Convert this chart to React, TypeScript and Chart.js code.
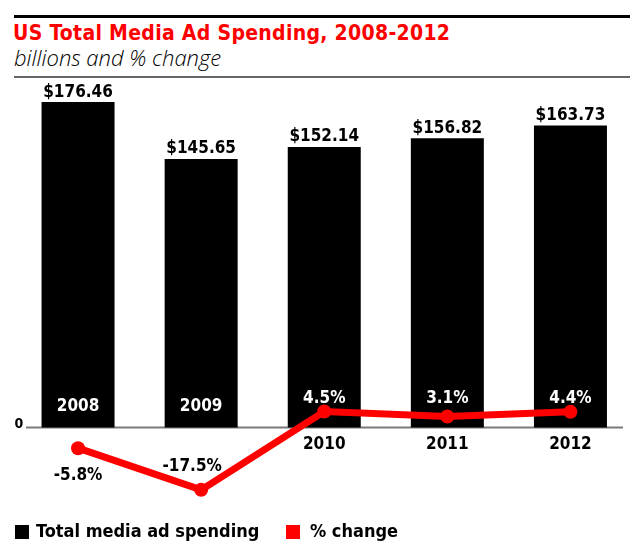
import React, { useEffect, useRef } from "react";
import { Chart, registerables } from "chart.js";

Chart.register(...registerables);

const years: string[] = ["2008", "2009", "2010", "2011", "2012"];
const spending: number[] = [176.46, 145.65, 152.14, 156.82, 163.73];
const pctChange: number[] = [-5.8, -17.5, 4.5, 3.1, 4.4];

const RED = "#ff0000";
const COND = '"DejaVu Sans Condensed", "DejaVu Sans", sans-serif';

const labelPlugin = {
  id: "customLabels",
  beforeDatasetsDraw(chart: any) {
    const { ctx, chartArea } = chart;
    const y = chart.scales.y;
    const zeroY = y.getPixelForValue(0);
    ctx.save();
    ctx.strokeStyle = "#7a7a7a";
    ctx.lineWidth = 2;
    ctx.beginPath();
    ctx.moveTo(chartArea.left + 9.5, zeroY);
    ctx.lineTo(chartArea.right - 9, zeroY);
    ctx.stroke();
    ctx.font = `bold 14px ${COND}`;
    ctx.fillStyle = "#000";
    ctx.textAlign = "center";
    ctx.textBaseline = "alphabetic";
    ctx.fillText("0", chartArea.left + 2.5, zeroY + 1);
    ctx.restore();
  },
  afterDatasetsDraw(chart: any) {
    const { ctx } = chart;
    const x = chart.scales.x;
    const y = chart.scales.y;
    const y1 = chart.scales.y1;
    const zeroY = y.getPixelForValue(0);
    const minPct = Math.min(...pctChange);
    ctx.save();
    ctx.textAlign = "center";
    ctx.textBaseline = "alphabetic";
    ctx.font = `bold 17px ${COND}`;
    spending.forEach((v, i) => {
      const cx = x.getPixelForValue(i);
      const top = y.getPixelForValue(v);
      ctx.fillStyle = "#000";
      ctx.fillText(`$${v.toFixed(2)}`, cx, top - 5.5);
    });
    years.forEach((yr, i) => {
      const cx = x.getPixelForValue(i);
      if (pctChange[i] < 0) {
        ctx.fillStyle = "#fff";
        ctx.fillText(yr, cx, zeroY - 16.5);
      } else {
        ctx.fillStyle = "#000";
        ctx.fillText(yr, cx, zeroY + 21.5);
      }
    });
    pctChange.forEach((p, i) => {
      const cx = x.getPixelForValue(i);
      const py = y1.getPixelForValue(p);
      const txt = `${p.toFixed(1)}%`;
      if (p >= 0) {
        ctx.fillStyle = "#fff";
        ctx.fillText(txt, cx, zeroY - 24.5);
      } else if (p === minPct) {
        ctx.fillStyle = "#000";
        ctx.fillText(txt, cx - 9, py - 19);
      } else {
        ctx.fillStyle = "#000";
        ctx.fillText(txt, cx, py + 32);
      }
    });
    ctx.restore();
  },
};

export default function App() {
  const canvasRef = useRef<HTMLCanvasElement | null>(null);

  useEffect(() => {
    document.body.style.margin = "0";
    const canvas = canvasRef.current;
    if (!canvas) return;
    const chart = new Chart(canvas, {
      type: "bar",
      data: {
        labels: years,
        datasets: [
          {
            type: "line",
            label: "% change",
            data: pctChange,
            yAxisID: "y1",
            borderColor: RED,
            backgroundColor: RED,
            borderWidth: 7,
            pointRadius: 7,
            pointBackgroundColor: RED,
            pointBorderWidth: 0,
            tension: 0,
            order: 0,
            clip: false as any,
          } as any,
          {
            type: "bar",
            label: "Total media ad spending",
            data: spending,
            yAxisID: "y",
            backgroundColor: "#000",
            borderWidth: 0,
            barPercentage: 0.593,
            categoryPercentage: 1,
            order: 1,
          } as any,
        ],
      },
      options: {
        responsive: false,
        animation: false,
        layout: { padding: { left: 16.5, right: 8, top: 80, bottom: 40 } },
        scales: {
          x: { display: false, offset: true, grid: { display: false } },
          y: { display: false, min: -44.74, max: 188.45 },
          y1: { display: false, min: -23.15, max: 97.53 },
        },
        plugins: {
          legend: { display: false },
          tooltip: { enabled: false },
        },
      },
      plugins: [labelPlugin],
    });
    return () => chart.destroy();
  }, []);

  const abs = (s: React.CSSProperties): React.CSSProperties => ({ position: "absolute", margin: 0, padding: 0, ...s });

  return (
    <div style={{ position: "relative", width: 640, height: 550, background: "#fff", overflow: "hidden" }}>
      <div style={abs({ left: 14, top: 15, width: 616, height: 3, background: "#000" })} />
      <div
        style={abs({
          left: 13,
          top: 23,
          font: `bold 21px/21px ${COND}`,
          letterSpacing: "0.3px",
          color: RED,
          whiteSpace: "nowrap",
        })}
      >
        US Total Media Ad Spending, 2008-2012
      </div>
      <div
        style={abs({
          left: 14,
          top: 45.5,
          fontFamily: '"Open Sans", Roboto, sans-serif',
          fontStyle: "italic",
          fontWeight: 300,
          fontSize: 22,
          lineHeight: "22px",
          color: "#000",
          whiteSpace: "nowrap",
        })}
      >
        billions and % change
      </div>
      <div style={abs({ left: 14, top: 76, width: 616, height: 2, background: "#666" })} />
      <canvas ref={canvasRef} width={640} height={550} style={abs({ left: 0, top: 0, display: "block" })} />
      <div style={abs({ left: 15, top: 525, width: 14, height: 14, background: "#000" })} />
      <div style={abs({ left: 36, top: 522, font: `bold 18px/18px ${COND}`, color: "#000", whiteSpace: "nowrap" })}>
        Total media ad spending
      </div>
      <div style={abs({ left: 286, top: 525, width: 14, height: 14, background: RED })} />
      <div style={abs({ left: 310, top: 522, font: `bold 18px/18px ${COND}`, color: "#000", whiteSpace: "nowrap" })}>
        % change
      </div>
    </div>
  );
}
